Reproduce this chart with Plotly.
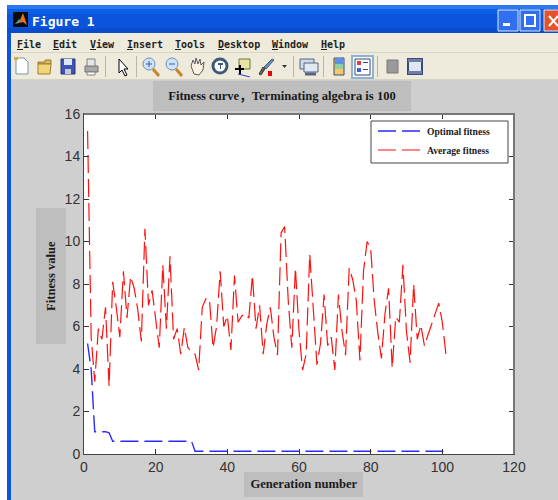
import plotly.graph_objects as go

generations = list(range(1, 102))
optimal_fitness = [5.2, 4.0, 1.05, 1.05, 1.05, 1.05, 1.0, 0.6] + [0.6] * 22 + [0.13] * 71
average_fitness = [
    15.2, 5.5, 3.4, 5.9, 5.4, 6.9, 3.2, 8.1, 6.9, 5.5,
    8.6, 6.4, 8.35, 7.8, 6.8, 5.3, 10.6, 7.0, 7.7, 6.2,
    5.0, 8.9, 5.9, 9.3, 5.4, 5.9, 4.7, 5.95, 5.0, 4.8,
    4.7, 3.95, 6.9, 7.3, 7.3, 5.0, 6.0, 8.6, 6.0, 6.5,
    4.9, 8.4, 6.2, 6.5, 6.6, 6.4, 8.4, 5.9, 7.0, 4.7,
    6.1, 6.9, 5.5, 4.65, 10.4, 10.7, 7.2, 5.0, 8.75, 5.8,
    3.95, 4.7, 9.4, 6.8, 4.2, 5.2, 7.5, 5.1, 5.5, 3.95,
    7.5, 5.8, 4.65, 8.75, 8.2, 7.2, 4.4, 8.6, 10.0, 9.7,
    7.2, 5.7, 4.5, 6.6, 7.8, 4.05, 6.45, 6.2, 8.9, 5.75,
    4.3, 8.0, 5.4, 6.07, 5.1, 5.6, 6.1, 6.6, 7.1, 6.2,
    4.7,
]
x_ticks = [0, 20, 40, 60, 80, 100, 120]
y_ticks = [0, 2, 4, 6, 8, 10, 12, 14, 16]
menu_items = ["<u>F</u>ile", "<u>E</u>dit", "<u>V</u>iew", "<u>I</u>nsert", "<u>T</u>ools",
              "<u>D</u>esktop", "<u>W</u>indow", "<u>H</u>elp"]
menu_left = [17, 53, 90, 127, 175, 218, 272, 321]

W, H = 558, 500
L, R, T, B = 84, 514, 114, 454
SERIF = "Liberation Serif, Noto Sans CJK SC, serif"


def px(v):
    return (v - L) / (R - L)


def py(v):
    return (B - v) / (B - T)


shapes = []
annotations = []


def rect(x0, y0, x1, y1, fill, line=None, layer="below", w=1):
    shapes.append(dict(type="rect", xref="paper", yref="paper", layer=layer,
                       x0=px(x0), x1=px(x1), y0=py(y0), y1=py(y1), fillcolor=fill,
                       line=dict(color=line or fill, width=w if line else 0)))


def poly(points, fill=None, line=None, w=1, closed=True):
    d = "M" + " L".join(f"{px(a):.5f},{py(b):.5f}" for a, b in points) + (" Z" if closed else "")
    shapes.append(dict(type="path", xref="paper", yref="paper", layer="below", path=d,
                       fillcolor=fill or "rgba(0,0,0,0)",
                       line=dict(color=line or "rgba(0,0,0,0)", width=w)))


def disc(x0, y0, x1, y1, fill, line=None, w=1):
    shapes.append(dict(type="circle", xref="paper", yref="paper", layer="below",
                       x0=px(x0), x1=px(x1), y0=py(y0), y1=py(y1),
                       fillcolor=fill or "rgba(0,0,0,0)",
                       line=dict(color=line or "rgba(0,0,0,0)", width=w)))


def text(x, y, s, size, color, family, xanchor="left"):
    annotations.append(dict(xref="paper", yref="paper", x=px(x), y=py(y), text=s, showarrow=False,
                            xanchor=xanchor, yanchor="middle", align="left",
                            font=dict(size=size, color=color, family=family),
                            borderpad=0, borderwidth=0))


# window frame
rect(0, 0, W, H, "#ffffff")
rect(7, 5, W, H, "#0a55dc")
rect(7, 5, W, 9, "#2a78ee")
rect(7, 9, W, 14, "#0d5fe6")
rect(7, 28, W, 33, "#0a4ccc")
rect(11, 33, W, 53, "#efebdc")
rect(11, 52, W, 53, "#d8d4c4")
rect(11, 53, W, 80, "#efebdc")
rect(11, 79, W, 80, "#d8d4c4")
rect(11, 80, W, H, "#cfcfcf")
rect(L, T, R, B, "#ffffff")

# title bar
rect(13, 12, 28, 27, "#0b0b0b")
poly([(15, 24), (20, 20), (23, 13), (27, 25), (23, 22)], "#e8751a")
poly([(15, 24), (19, 19), (21, 21)], "#2c9fb5")
text(32, 21, "<b>Figure 1</b>", 13, "#ffffff", "DejaVu Sans Mono")
for x0, x1, c in [(498, 518, "#2f6ff0"), (520, 540, "#2f6ff0"), (544, 564, "#e2552c")]:
    rect(x0, 10, x1, 31, c, "#dfe8fb", "below", 1)
rect(503, 23, 510, 26, "#ffffff")
rect(525, 15, 535, 26, "rgba(0,0,0,0)", "#ffffff", "below", 2)
poly([(549, 16), (558, 26)], None, "#ffffff", 2, False)
poly([(558, 16), (549, 26)], None, "#ffffff", 2, False)

# menu bar
for left, label in zip(menu_left, menu_items):
    text(left, 44, f"<b>{label}</b>", 10, "#222222", "DejaVu Sans Mono")

# toolbar icons
for sx in [105, 136, 293, 323, 377]:
    rect(sx, 56, sx + 1, 77, "#b9b6a8")
poly([(16, 58), (24, 58), (28, 62), (28, 74), (16, 74)], "#ffffff", "#7a93b5")
rect(14, 57, 18, 60, "#e8a33a")
poly([(38, 62), (45, 62), (45, 60), (51, 60), (51, 64), (38, 64)], "#dcb95a", "#9a7d2c")
poly([(38, 64), (51, 64), (50, 74), (38, 74)], "#f2d479", "#9a7d2c")
rect(61, 59, 75, 74, "#3d55b5", "#27347a")
rect(64, 59, 72, 65, "#dfe6f5")
rect(65, 69, 71, 74, "#c9c9d6")
rect(85, 66, 98, 72, "#a9a9a9", "#707070")
rect(87, 59, 95, 66, "#e6e6e6", "#808080")
rect(87, 72, 95, 75, "#ffffff", "#808080")
poly([(119, 59), (119, 73), (122, 70), (125, 76), (127, 75), (124, 69), (128, 69)], "#ffffff", "#000000")
for cx, sign in [(149, "+"), (172, "-")]:
    poly([(cx + 4, 69), (cx + 10, 76)], None, "#c8862a", 3, False)
    disc(cx - 6, 58, cx + 6, 70, "#cfe3f7", "#6d8fb5", 1)
    rect(cx - 3, 63.5, cx + 3, 64.5, "#2d5fa8")
    if sign == "+":
        rect(cx - 0.5, 61, cx + 0.5, 67, "#2d5fa8")
poly([(191, 66), (193, 60), (195, 64), (196, 58), (198, 64), (200, 59), (201, 65), (204, 62),
      (203, 70), (199, 75), (194, 74)], "#fbf1e2", "#5a5a5a")
disc(213, 59, 227, 73, "#ffffff", "#3c5a78", 3)
rect(218, 63, 223, 65, "#3c5a78")
rect(220, 63, 221, 69, "#3c5a78")
rect(239, 59, 250, 69, "#e8e3a8", "#6c7a2c")
poly([(235, 69), (244, 69)], None, "#000000", 2, False)
poly([(240, 65), (240, 75)], None, "#000000", 2, False)
poly([(238, 74), (250, 77)], None, "#3a3ad0", 1, False)
poly([(259, 74), (263, 67), (265, 69), (261, 75)], "#6b5640", "#444444")
poly([(264, 67), (272, 59), (274, 60), (266, 69)], "#6d8fb5", "#3f5f85")
rect(268, 71, 272, 76, "#f00000")
poly([(282, 65), (287, 65), (284.5, 68)], "#333333")
rect(300, 59, 314, 69, "#cfd9e8", "#55657f")
rect(304, 63, 318, 72, "#e2e8f2", "#55657f")
poly([(305, 74), (316, 74)], None, "#55657f", 3, False)
rect(334, 58, 344, 75, "#f2c96a", "#3a4a7a")
rect(335, 58, 343, 64, "#5f8fe0")
rect(335, 64, 343, 69, "#8fd0a0")
rect(352, 56, 373, 78, "#f7f7f4", "#8fb2d8", "below", 2)
rect(355, 59, 370, 75, "#ffffff", "#3a4a7a")
rect(357, 61, 361, 65, "#d64040")
rect(357, 68, 361, 72, "#4060d0")
rect(363, 62, 368, 63, "#3a4a7a")
rect(363, 69, 368, 70, "#3a4a7a")
rect(387, 60, 398, 73, "#9a9a9a", "#777777")
rect(408, 59, 422, 74, "#dfe6f0", "#3a4a7a", "below", 2)
rect(408, 59, 422, 62, "#6d7fa5")
rect(408, 71, 422, 74, "#6d7fa5")

# label panels
rect(153, 81, 411, 111, "#bebebe")
rect(36, 208, 66, 344, "#bebebe")
rect(244, 472, 363, 497, "#bebebe")

# legend frame
rect(371, 121, 508, 163, "#ffffff", "#444444", "below", 1)

# heavier grey top and right edge of the axes
rect(L, T - 1, R + 1, T + 1, "#777777", None, "above")
rect(R - 1, T - 1, R + 1, B, "#777777", None, "above")

fig = go.Figure()
fig.add_trace(go.Scatter(x=generations, y=optimal_fitness, mode="lines", name="<b>Optimal fitness</b>",
                         line=dict(color="#2a2aff", width=1.4, dash="18px,6px")))
fig.add_trace(go.Scatter(x=generations, y=average_fitness, mode="lines", name="<b>Average fitness</b>",
                         line=dict(color="#ff1010", width=1.2, dash="18px,6px")))

fig.update_layout(
    width=W, height=H,
    margin=dict(l=L, r=W - R, t=T, b=H - B, autoexpand=False),
    paper_bgcolor="#cfcfcf", plot_bgcolor="#ffffff",
    showlegend=True,
    title=dict(text="<b>Fitness curve，Terminating algebra is 100</b>",
               x=282 / W, y=1 - 96 / H, xref="container", yref="container",
               xanchor="center", yanchor="middle",
               font=dict(family=SERIF, size=12.6, color="#1a1a1a")),
    legend=dict(x=px(373), y=py(116.5), xanchor="left", yanchor="top",
                bgcolor="rgba(0,0,0,0)", borderwidth=0,
                itemwidth=44, entrywidth=85, entrywidthmode="pixels",
                font=dict(family=SERIF, size=9.6, color="#1a1a1a"),
                traceorder="normal"),
    shapes=shapes, annotations=annotations,
    xaxis=dict(range=[0, 120], tickvals=x_ticks, ticks="inside", ticklen=5, tickcolor="#333333",
               showgrid=False, zeroline=False, showline=True, linecolor="#444444", linewidth=1,
               mirror="allticks", tickfont=dict(family="Liberation Sans", size=14, color="#333333"),
               title=dict(text="\u200b\u00a0\u00a0\u00a0<b>Generation number</b>", standoff=5,
                          font=dict(family=SERIF, size=12.6, color="#1a1a1a"))),
    yaxis=dict(range=[0, 16], tickvals=y_ticks, ticks="inside", ticklen=5, tickcolor="#333333",
               showgrid=False, zeroline=False, showline=True, linecolor="#444444", linewidth=1,
               mirror="allticks", tickfont=dict(family="Liberation Sans", size=14, color="#333333"),
               title=dict(text="\u200b\u00a0\u00a0\u00a0\u00a0\u00a0<b>Fitness value</b>", standoff=6,
                          font=dict(family=SERIF, size=12.6, color="#1a1a1a"))),
)

fig.write_html("out.html", config=dict(displayModeBar=False),
               post_script="document.body.style.margin='0';document.body.style.overflow='hidden';")
